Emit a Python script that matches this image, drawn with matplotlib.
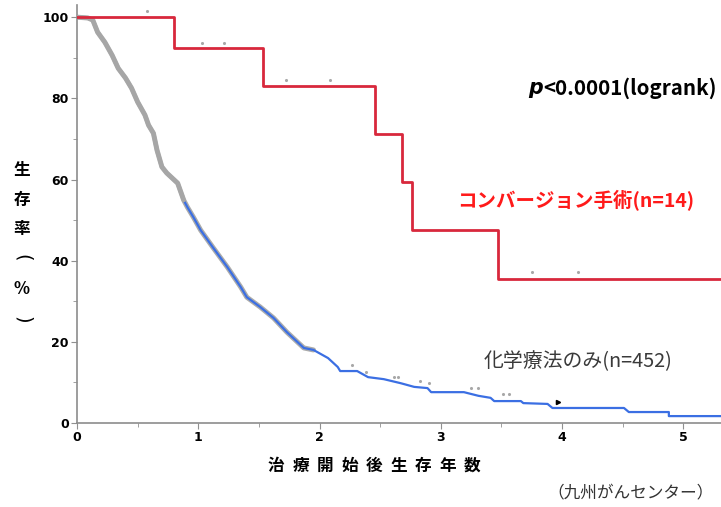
import matplotlib
matplotlib.use("Agg")
import matplotlib.pyplot as plt
import numpy as np

plt.rcParams['font.family'] = ['Noto Sans CJK JP', 'DejaVu Sans']

# Conversion surgery group (n=14): step times (years) and survival (%)
conv_t = [0, 0.80, 1.53, 2.46, 2.68, 2.76, 3.47, 5.31]
conv_s = [100, 92.3, 83.1, 71.2, 59.3, 47.5, 35.6, 35.6]
conv_cens_t = [0.58, 1.03, 1.21, 1.72, 2.09, 3.75, 4.13]
conv_cens_s = [101.5, 93.6, 93.6, 84.5, 84.5, 37.2, 37.2]

# Chemotherapy only group (n=452): curve vertices
chemo_t = [0, 0.09, 0.13, 0.17, 0.23, 0.29, 0.34, 0.40, 0.45, 0.50, 0.56,
           0.59, 0.63, 0.66, 0.70, 0.74, 0.83, 0.88, 0.91, 0.96, 1.02, 1.12,
           1.24, 1.35, 1.40, 1.51, 1.62, 1.73, 1.87, 1.95, 2.07, 2.15, 2.17,
           2.31, 2.40, 2.53, 2.67, 2.78, 2.89, 2.92, 3.19, 3.31, 3.41,
           3.44, 3.66, 3.68, 3.88, 3.92, 4.51, 4.55, 4.88, 4.88, 5.31]
chemo_s = [100, 99.8, 99.3, 96.3, 93.8, 90.6, 87.4, 85.0, 82.5, 79.1, 75.9,
           73.4, 71.4, 67.2, 63.1, 61.6, 59.1, 54.9, 53.2, 50.7, 47.5, 43.3,
           38.4, 33.5, 31.0, 28.6, 25.9, 22.4, 18.5, 18.0, 16.0, 13.8, 12.8,
           12.8, 11.3, 10.8, 9.8, 8.9, 8.6, 7.6, 7.6, 6.7, 6.2,
           5.4, 5.4, 4.9, 4.7, 3.7, 3.7, 2.7, 2.7, 1.7, 1.7]
chemo_cens_t = [2.27, 2.38, 2.61, 2.65, 2.83, 2.90, 3.25, 3.31, 3.51, 3.56]
chemo_cens_s = [14.3, 12.6, 11.3, 11.3, 10.3, 9.8, 8.6, 8.6, 7.1, 7.1]

fig = plt.figure(figsize=(7.21, 5.07), dpi=100)
ax = fig.add_axes([77 / 721, 1 - 423 / 507, 1 - 77 / 721, 418 / 507])

chemo_t = np.array(chemo_t)
chemo_s = np.array(chemo_s)
band = chemo_t <= 2.0
early = chemo_t <= 0.88

# gray band of censor marks along the curve
ax.plot(chemo_t[band], chemo_s[band], color='#ababab', lw=3.6, zorder=1,
        solid_capstyle='round', solid_joinstyle='round')
ax.plot(chemo_t, chemo_s, color='#3b6fe3', lw=1.6, zorder=2)
ax.plot(chemo_t[early], chemo_s[early], color='#a6a6a6', lw=3.0, zorder=3,
        solid_capstyle='round', solid_joinstyle='round')
ax.scatter(chemo_cens_t, chemo_cens_s, s=5, color='#a8a8a8', zorder=4, lw=0)
ax.plot([3.97], [5.2], marker='>', ms=3, color='black', zorder=5)

ax.step(conv_t, conv_s, where='post', color='#d8283c', lw=2, zorder=3)
ax.scatter(conv_cens_t, conv_cens_s, s=5, color='#a8a8a8', zorder=4, lw=0,
           clip_on=False)

ax.set_xlim(0, 5.31)
ax.set_ylim(0, 103)
ax.set_xticks([0, 1, 2, 3, 4, 5])
ax.set_xticks(np.arange(0.5, 5.3, 1.0), minor=True)
ax.set_yticks([0, 20, 40, 60, 80, 100])
ax.set_yticks([10, 30, 50, 70, 90], minor=True)
for lab in ax.get_xticklabels() + ax.get_yticklabels():
    lab.set_fontweight('bold')
    lab.set_fontsize(9)
    lab.set_family(['DejaVu Sans'])
ax.tick_params(axis='both', which='major', length=4, color='#909090', pad=2)
ax.tick_params(axis='both', which='minor', length=3, color='#909090')
for side in ['top', 'right']:
    ax.spines[side].set_visible(False)
for side in ['left', 'bottom']:
    ax.spines[side].set_color('#8c8c8c')
    ax.spines[side].set_linewidth(1.2)

# y label, stacked vertically; parentheses turned for vertical writing
ylab = ['生', '存', '率', '(', '%', ')']
ypos = [170, 200, 229, 258, 289, 320]
for ch, yp in zip(ylab, ypos):
    if ch in '()':
        fig.text(22 / 721, 1 - yp / 507, ch, ha='center', va='center',
                 fontsize=14, rotation=270, family=['DejaVu Sans'])
    else:
        fig.text(22 / 721, 1 - yp / 507, ch, ha='center', va='center',
                 fontsize=12, fontweight='bold')

# x label with letter spacing
xlab = '治療開始後生存年数'
for i, ch in enumerate(xlab):
    fig.text((276 + i * 24.5) / 721, 1 - 466 / 507, ch, ha='center',
             va='center', fontsize=12, fontweight='bold')

fig.text(714 / 721, 1 - 494 / 507, '（九州がんセンター）', ha='right',
         va='center', fontsize=12, color='#333333')

fig.text(528 / 721, 1 - 88 / 507, 'p', ha='left', va='center', fontsize=14.8,
         fontweight='bold', style='italic', family=['DejaVu Sans'])
fig.text(543 / 721, 1 - 88 / 507, '<0.0001(logrank)', ha='left', va='center',
         fontsize=14.8, fontweight='bold')

fig.text(457 / 721, 1 - 201 / 507, 'コンバージョン手術(n=14)', ha='left',
         va='center', fontsize=14, fontweight='bold', color='#ff1a1a')
fig.text(484 / 721, 1 - 362 / 507, '化学療法のみ(n=452)', ha='left',
         va='center', fontsize=14.3, color='#3a3a3a')

fig.savefig('out.png', dpi=100)
